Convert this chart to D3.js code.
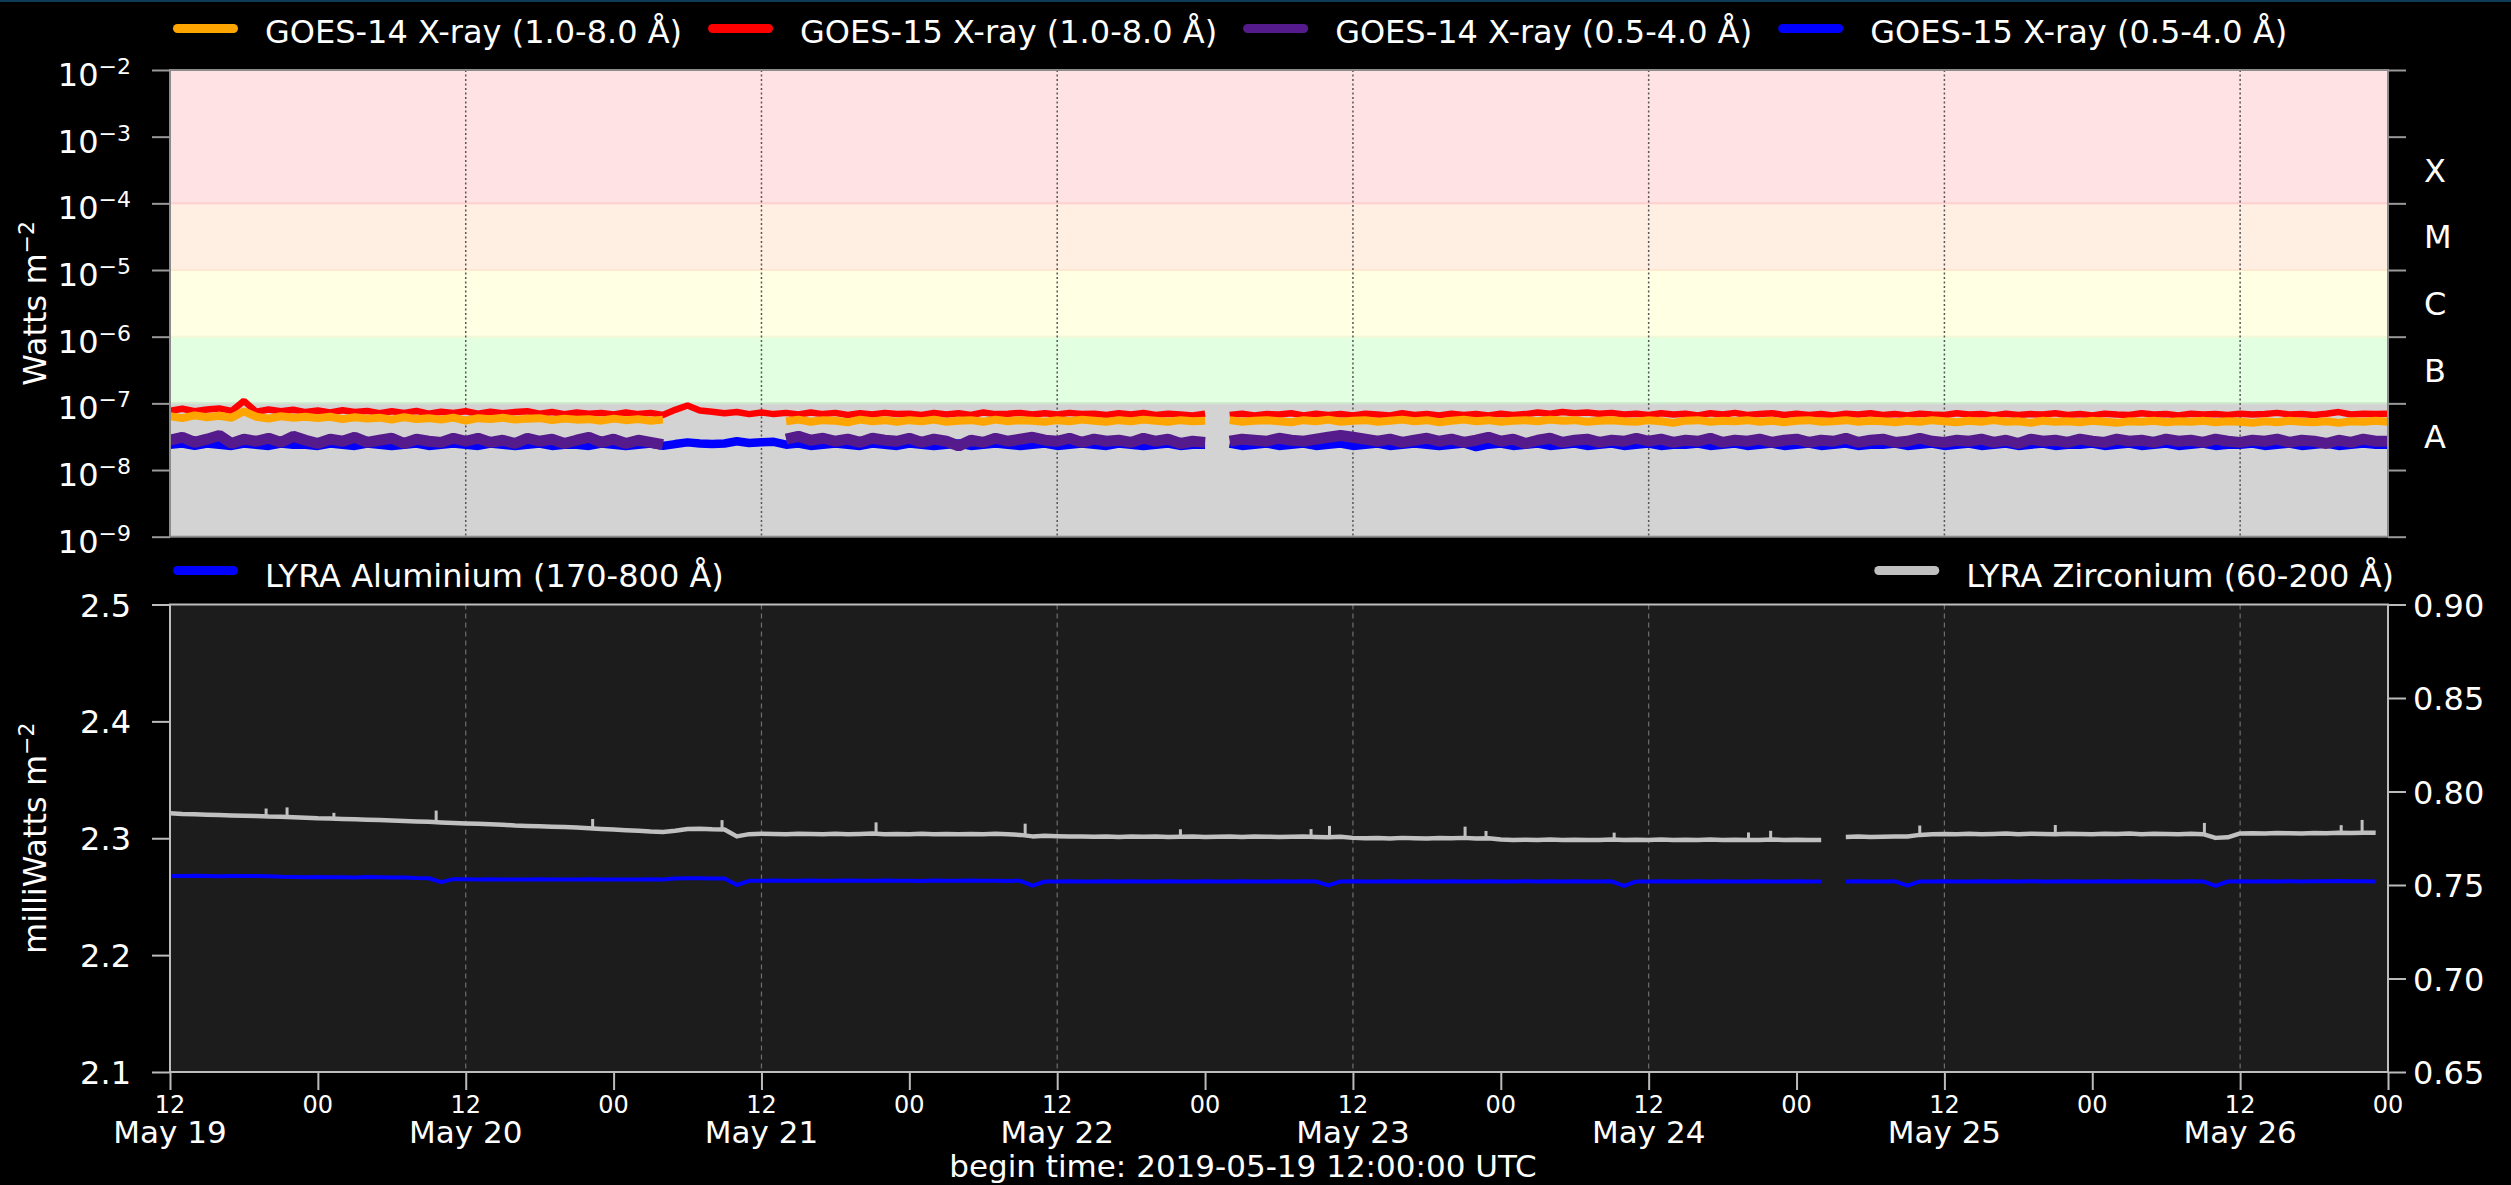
<!DOCTYPE html>
<html>
<head>
<meta charset="utf-8">
<script src="https://cdn.jsdelivr.net/npm/d3@7"></script>
<style>
  html, body { margin: 0; padding: 0; background: #000; }
  svg { display: block; font-family: "DejaVu Sans", sans-serif; }
</style>
</head>
<body>
<svg id="chart" width="2511" height="1185"></svg>
<script>
// ---------- data (hourly samples from 2019-05-19 12:00 UTC) ----------
const START = Date.UTC(2019, 4, 19, 12);
const HOUR = 3600e3;
const sampleHours = d3.range(181);

// GOES fluxes in units of 1e-8 W m^-2
const goes15Long = [
  7.7, 8.3, 7.6, 8.1, 8.4, 7.7, 10.9, 7.5, 8.1, 7.6, 8.0, 7.4,
  7.8, 7.3, 7.9, 7.4, 7.7, 7.1, 7.6, 7.2, 7.7, 7.0, 7.5, 7.2,
  7.6, 7.0, 7.5, 7.1, 7.4, 7.6, 7.0, 7.4, 6.9, 7.3, 7.0, 7.2,
  6.8, 7.3, 6.9, 7.2, 6.7, 8.0, 9.3, 7.8, 7.5, 7.1, 7.4, 6.9,
  7.3, 6.9, 7.2, 6.8, 7.3, 6.9, 7.2, 6.7, 7.1, 6.8, 7.2, 6.9,
  7.0, 6.7, 7.2, 6.8, 7.1, 6.7, 7.3, 6.9, 7.0, 7.2, 6.8, 7.1,
  6.8, 7.2, 6.9, 7.0, 6.7, 7.1, 6.8, 7.2, 6.7, 7.0, 6.8, 6.6,
  7.0, null, 6.7, 7.0, 6.6, 6.9, 6.8, 7.1, 6.6, 7.0, 6.7, 6.9,
  6.6, 7.0, 6.8, 6.6, 7.1, 6.7, 6.9, 6.6, 7.0, 6.7, 6.9, 6.6,
  7.0, 6.7, 6.9, 7.3, 7.0, 7.4, 7.1, 7.3, 7.0, 7.2, 6.8, 7.0,
  6.7, 7.1, 6.8, 7.0, 6.6, 7.1, 6.8, 7.2, 6.7, 6.9, 7.1, 6.7,
  7.0, 6.7, 6.9, 6.6, 7.0, 6.8, 7.1, 6.7, 6.9, 6.6, 7.0, 6.8,
  6.7, 7.1, 6.8, 6.9, 6.6, 7.0, 6.7, 6.9, 6.8, 7.1, 6.7, 6.9,
  6.6, 7.0, 6.8, 6.7, 7.1, 6.8, 6.9, 6.6, 7.0, 6.8, 6.9, 6.7,
  7.0, 6.8, 6.9, 7.2, 6.8, 6.9, 6.7, 7.0, 7.4, 6.8, 7.0, 6.9,
  7.0
];
const goes14Long = [
  6.4, 6.0, 6.6, 6.2, 6.5, 6.1, 7.6, 6.3, 5.9, 6.4, 6.1, 6.3,
  6.0, 6.3, 5.8, 6.2, 5.9, 6.1, 5.7, 6.2, 5.8, 6.0, 5.7, 6.1,
  5.5, 6.0, 5.8, 6.1, 5.7, 5.9, 6.0, 5.6, 5.9, 5.7, 5.8, 5.5,
  5.9, 5.6, 5.8, 5.5, 5.7, null, null, null, null, null, null, null,
  null, null, 5.4, 5.7, 5.3, 5.6, 5.5, 5.2, 5.7, 5.4, 5.6, 5.3,
  5.6, 5.4, 5.7, 5.3, 5.5, 5.6, 5.3, 5.7, 5.4, 5.6, 5.5, 5.3,
  5.6, 5.4, 5.7, 5.5, 5.3, 5.6, 5.4, 5.7, 5.5, 5.3, 5.6, 5.4,
  5.5, null, 5.6, 5.3, 5.5, 5.6, 5.4, 5.2, 5.6, 5.4, 5.7, 5.3,
  5.5, 5.6, 5.3, 5.5, 5.7, 5.4, 5.6, 5.2, 5.5, 5.7, 5.4, 5.6,
  5.3, 5.5, 5.6, 5.4, 5.7, 5.5, 5.6, 5.3, 5.5, 5.6, 5.4, 5.3,
  5.6, 5.4, 5.1, 5.5, 5.6, 5.3, 5.5, 5.4, 5.6, 5.3, 5.5, 5.2,
  5.5, 5.6, 5.3, 5.4, 5.6, 5.3, 5.5, 5.4, 5.2, 5.5, 5.3, 5.6,
  5.4, 5.2, 5.5, 5.3, 5.6, 5.3, 5.4, 5.1, 5.5, 5.3, 5.4, 5.2,
  5.5, 5.3, 5.1, 5.4, 5.3, 5.5, 5.2, 5.4, 5.3, 5.5, 5.2, 5.4,
  5.3, 5.1, 5.4, 5.2, 5.5, 5.3, 5.2, 5.4, 5.1, 5.4, 5.3, 5.5,
  5.3
];
const goes14Short = [
  2.8, 3.1, 2.6, 2.9, 3.3, 2.5, 2.9, 2.7, 3.0, 2.6, 3.2, 2.8,
  2.5, 2.9, 2.7, 3.1, 2.6, 2.8, 3.0, 2.5, 2.9, 2.7, 2.6, 3.0,
  2.7, 3.0, 2.6, 2.8, 2.5, 3.0, 2.7, 2.9, 2.5, 2.8, 3.1, 2.6,
  2.9, 2.5, 2.8, 2.6, 2.4, null, null, null, null, null, null, null,
  null, null, 2.9, 3.2, 2.8, 3.0, 2.7, 2.9, 2.6, 3.0, 2.8, 2.7,
  3.0, 2.6, 2.9, 2.7, 2.3, 2.8, 2.6, 3.0, 2.7, 2.9, 3.1, 2.8,
  2.7, 3.0, 2.6, 2.9, 2.7, 2.8, 2.6, 3.0, 2.7, 2.9, 2.5, 2.7,
  2.6, null, 2.7, 2.9, 2.8, 2.7, 3.0, 2.8, 2.7, 2.9, 3.1, 3.3,
  3.1, 2.9, 2.7, 2.9, 2.6, 2.8, 3.0, 2.7, 2.9, 2.6, 2.8, 3.1,
  2.7, 2.9, 2.5, 2.8, 3.0, 2.6, 2.8, 2.9, 2.6, 2.8, 2.7, 3.0,
  2.7, 2.9, 2.6, 2.8, 2.7, 3.0, 2.6, 2.8, 2.7, 2.9, 2.6, 2.8,
  2.9, 2.6, 2.8, 2.7, 3.0, 2.6, 2.8, 2.9, 2.6, 2.7, 3.0, 2.7,
  2.6, 2.8, 2.7, 2.9, 2.6, 2.8, 2.5, 2.9, 2.7, 2.8, 2.6, 2.9,
  2.7, 2.6, 2.9, 2.7, 2.8, 2.6, 2.9, 2.7, 2.8, 2.6, 2.9, 2.7,
  2.6, 2.8, 2.7, 2.9, 2.6, 2.8, 2.7, 2.5, 2.8, 2.6, 2.9, 2.7,
  2.7
];
const goes15Short = [
  2.4, 2.5, 2.3, 2.5, 2.4, 2.3, 2.5, 2.4, 2.3, 2.5, 2.4, 2.4,
  2.3, 2.5, 2.4, 2.3, 2.5, 2.4, 2.3, 2.4, 2.5, 2.3, 2.4, 2.5,
  2.4, 2.3, 2.5, 2.4, 2.3, 2.4, 2.5, 2.3, 2.4, 2.4, 2.3, 2.5,
  2.4, 2.3, 2.4, 2.5, 2.3, 2.45, 2.6, 2.5, 2.45, 2.5, 2.7, 2.55,
  2.6, 2.65, 2.4, 2.5, 2.3, 2.4, 2.5, 2.4, 2.3, 2.5, 2.4, 2.3,
  2.5, 2.4, 2.3, 2.4, 2.5, 2.3, 2.4, 2.5, 2.4, 2.3, 2.4, 2.5,
  2.3, 2.4, 2.5, 2.4, 2.3, 2.5, 2.4, 2.3, 2.4, 2.5, 2.3, 2.4,
  2.4, null, 2.5, 2.3, 2.4, 2.5, 2.3, 2.4, 2.5, 2.3, 2.4, 2.5,
  2.3, 2.4, 2.5, 2.3, 2.4, 2.5, 2.4, 2.3, 2.4, 2.5, 2.2, 2.4,
  2.5, 2.3, 2.4, 2.5, 2.3, 2.4, 2.5, 2.3, 2.4, 2.5, 2.3, 2.4,
  2.5, 2.3, 2.4, 2.4, 2.5, 2.3, 2.4, 2.5, 2.3, 2.4, 2.5, 2.3,
  2.4, 2.5, 2.3, 2.4, 2.5, 2.3, 2.4, 2.4, 2.5, 2.3, 2.4, 2.5,
  2.3, 2.4, 2.5, 2.3, 2.4, 2.5, 2.3, 2.4, 2.5, 2.3, 2.4, 2.4,
  2.5, 2.3, 2.4, 2.5, 2.3, 2.4, 2.5, 2.3, 2.4, 2.5, 2.3, 2.4,
  2.4, 2.5, 2.3, 2.4, 2.5, 2.3, 2.4, 2.5, 2.3, 2.4, 2.5, 2.4,
  2.4
];

// LYRA irradiances, mW m^-2
const lyraAl = [
  2.2678, 2.2676, 2.2679, 2.2677, 2.2675, 2.2678, 2.2676, 2.2677, 2.2675, 2.2670, 2.2668, 2.2667,
  2.2669, 2.2666, 2.2667, 2.2665, 2.2668, 2.2666, 2.2664, 2.2665, 2.2660, 2.2658, 2.2625, 2.2650,
  2.2649, 2.2648, 2.2650, 2.2647, 2.2648, 2.2646, 2.2649, 2.2647, 2.2648, 2.2646, 2.2649, 2.2647,
  2.2648, 2.2646, 2.2647, 2.2649, 2.2648, 2.2656, 2.2658, 2.2657, 2.2656, 2.2655, 2.2600, 2.2636,
  2.2637, 2.2638, 2.2636, 2.2637, 2.2639, 2.2636, 2.2637, 2.2638, 2.2636, 2.2637, 2.2639, 2.2636,
  2.2637, 2.2635, 2.2638, 2.2636, 2.2637, 2.2638, 2.2636, 2.2637, 2.2635, 2.2636, 2.2594, 2.2630,
  2.2631, 2.2632, 2.2630, 2.2631, 2.2633, 2.2630, 2.2632, 2.2631, 2.2630, 2.2632, 2.2631, 2.2630,
  2.2632, 2.2631, 2.2630, 2.2632, 2.2631, 2.2630, 2.2632, 2.2631, 2.2633, 2.2630, 2.2596, 2.2631,
  2.2632, 2.2630, 2.2631, 2.2633, 2.2630, 2.2632, 2.2631, 2.2630, 2.2632, 2.2631, 2.2630, 2.2632,
  2.2631, 2.2630, 2.2632, 2.2631, 2.2633, 2.2630, 2.2632, 2.2631, 2.2630, 2.2632, 2.2592, 2.2631,
  2.2630, 2.2632, 2.2631, 2.2630, 2.2632, 2.2631, 2.2633, 2.2630, 2.2631, 2.2632, 2.2630, 2.2631,
  2.2632, 2.2630, 2.2631, null, 2.2630, 2.2632, 2.2631, 2.2630, 2.2632, 2.2594, 2.2631, 2.2630,
  2.2632, 2.2631, 2.2630, 2.2632, 2.2631, 2.2633, 2.2630, 2.2632, 2.2631, 2.2630, 2.2632, 2.2631,
  2.2630, 2.2632, 2.2631, 2.2633, 2.2630, 2.2632, 2.2631, 2.2630, 2.2632, 2.2631, 2.2593, 2.2630,
  2.2632, 2.2631, 2.2633, 2.2630, 2.2632, 2.2631, 2.2633, 2.2632, 2.2634, 2.2633, 2.2632, 2.2631,
  null
];
const lyraZr = [
  0.7884, 0.7880, 0.7878, 0.7876, 0.7874, 0.7872, 0.7870, 0.7869, 0.7866, 0.7865, 0.7862, 0.7860,
  0.7857, 0.7856, 0.7853, 0.7851, 0.7849, 0.7847, 0.7845, 0.7842, 0.7840, 0.7838, 0.7834, 0.7831,
  0.7829, 0.7827, 0.7825, 0.7822, 0.7818, 0.7816, 0.7814, 0.7812, 0.7810, 0.7807, 0.7803, 0.7800,
  0.7797, 0.7793, 0.7790, 0.7786, 0.7784, 0.7790, 0.7799, 0.7801, 0.7798, 0.7797, 0.7760, 0.7772,
  0.7774, 0.7773, 0.7772, 0.7774, 0.7773, 0.7771, 0.7774, 0.7772, 0.7773, 0.7775, 0.7772, 0.7773,
  0.7771, 0.7774, 0.7772, 0.7773, 0.7771, 0.7773, 0.7772, 0.7774, 0.7771, 0.7768, 0.7760, 0.7763,
  0.7761, 0.7759, 0.7760, 0.7758, 0.7759, 0.7757, 0.7760, 0.7758, 0.7759, 0.7757, 0.7758, 0.7759,
  0.7757, 0.7758, 0.7760, 0.7757, 0.7759, 0.7758, 0.7757, 0.7758, 0.7759, 0.7757, 0.7756, 0.7758,
  0.7752, 0.7750, 0.7751, 0.7749, 0.7752, 0.7750, 0.7749, 0.7751, 0.7750, 0.7752, 0.7749, 0.7750,
  0.7743, 0.7741, 0.7742, 0.7740, 0.7743, 0.7741, 0.7742, 0.7740, 0.7741, 0.7743, 0.7740, 0.7742,
  0.7741, 0.7743, 0.7740, 0.7742, 0.7741, 0.7743, 0.7740, 0.7742, 0.7741, 0.7740, 0.7743, 0.7741,
  0.7742, 0.7740, 0.7741, null, 0.7757, 0.7759, 0.7757, 0.7758, 0.7760, 0.7759, 0.7768, 0.7772,
  0.7773, 0.7771, 0.7774, 0.7772, 0.7773, 0.7775, 0.7772, 0.7774, 0.7773, 0.7771, 0.7774, 0.7773,
  0.7772, 0.7774, 0.7773, 0.7775, 0.7772, 0.7774, 0.7773, 0.7771, 0.7774, 0.7772, 0.7752, 0.7755,
  0.7776, 0.7777, 0.7776, 0.7778, 0.7777, 0.7776, 0.7778, 0.7777, 0.7779, 0.7778, 0.7780, 0.7779,
  null
];
// short upward spikes on the zirconium channel
const zrSpikeHours = [7.8, 9.5, 13.3, 21.6, 34.3, 44.8, 57.3, 69.4, 82, 92.6, 94.1, 105.1, 106.8, 117.2, 128.1, 129.9, 142, 153, 165.1, 176.2, 177.9];
const zrSpikePeaks = [0.7909, 0.7915, 0.7886, 0.7898, 0.7853, 0.7847, 0.7835, 0.7828, 0.7798, 0.7799, 0.7816, 0.7812, 0.7789, 0.7780, 0.7781, 0.7790, 0.7818, 0.7821, 0.7832, 0.7820, 0.7848];

const flareClasses = ['A', 'B', 'C', 'M', 'X'];
const flareLower = [1e-8, 1e-7, 1e-6, 1e-5, 1e-4];
const goesDecades = [1e-9, 1e-8, 1e-7, 1e-6, 1e-5, 1e-4, 1e-3, 1e-2];
const alTicks = [2.1, 2.2, 2.3, 2.4, 2.5];
const zrTicks = [0.65, 0.70, 0.75, 0.80, 0.85, 0.90];

const goesLabels = ['GOES-14 X-ray (1.0-8.0 Å)', 'GOES-15 X-ray (1.0-8.0 Å)', 'GOES-14 X-ray (0.5-4.0 Å)', 'GOES-15 X-ray (0.5-4.0 Å)'];
const lyraLabels = ['LYRA Aluminium (170-800 Å)', 'LYRA Zirconium (60-200 Å)'];

// ---------- layout / style ----------
const W = 2511, H = 1185;
const L = 170, R = 2388;
const topT = 70, topB = 536.7, botT = 604.5, botB = 1072;
const FONT = '"DejaVu Sans", sans-serif';
const COL = { g14l: '#ffa500', g15l: '#ff0000', g14s: '#551a8b', g15s: '#0000ff', al: '#0000ff', zr: '#c0c0c0' };
const bandFill = { A: '#d3d3d3', B: '#e2ffe2', C: '#ffffe3', M: '#ffefe2', X: '#ffe2e4' };
const bandEdge = { B: '#cde8cd', C: '#f2f8d6', M: '#ffe8cf', X: '#ffcfcf' };

const svg = d3.select('#chart');
svg.append('rect').attr('width', W).attr('height', H).attr('fill', '#000');
svg.append('rect').attr('width', W).attr('height', 2).attr('fill', '#0e3b56');

const t0 = new Date(START), t1 = new Date(START + 180 * HOUR);
const timeOf = (h) => new Date(START + h * HOUR);
const x = d3.scaleUtc().domain([t0, t1]).range([L, R]);
const yG = d3.scaleLog().domain([1e-9, 1e-2]).range([topB, topT]);
const yAl = d3.scaleLinear().domain([2.1, 2.5]).range([botB, botT]);
const yZr = d3.scaleLinear().domain([0.65, 0.90]).range([botB, botT]);

const xTicks = d3.utcHours(t0, new Date(+t1 + 1), 12);
const noonTicks = xTicks.filter((d) => d.getUTCHours() === 12);

const defs = svg.append('defs');
defs.append('clipPath').attr('id', 'clipTop').append('rect')
  .attr('x', L).attr('y', topT).attr('width', R - L).attr('height', topB - topT);
defs.append('clipPath').attr('id', 'clipBot').append('rect')
  .attr('x', L).attr('y', botT).attr('width', R - L).attr('height', botB - botT);

// ---------- top panel (GOES) ----------
const gTop = svg.append('g');
flareClasses.forEach((c, i) => {
  const lo = i === 0 ? yG.domain()[0] : flareLower[i];
  const hi = i === flareClasses.length - 1 ? yG.domain()[1] : flareLower[i + 1];
  gTop.append('rect').attr('x', L).attr('width', R - L)
    .attr('y', yG(hi)).attr('height', yG(lo) - yG(hi)).attr('fill', bandFill[c]);
});
flareClasses.slice(1).forEach((c, i) => {
  gTop.append('line').attr('x1', L).attr('x2', R)
    .attr('y1', yG(flareLower[i + 1])).attr('y2', yG(flareLower[i + 1]))
    .attr('stroke', bandEdge[c]).attr('stroke-width', 2);
});
gTop.selectAll('line.grid').data(noonTicks.slice(1)).join('line')
  .attr('class', 'grid')
  .attr('x1', (d) => x(d)).attr('x2', (d) => x(d)).attr('y1', topT).attr('y2', topB)
  .attr('stroke', '#555').attr('stroke-width', 1.5).attr('stroke-dasharray', '2,2.5');

const goesLine = d3.line()
  .defined((d) => d[1] != null)
  .x((d) => x(timeOf(d[0])))
  .y((d) => yG(d[1] * 1e-8));
// drawing order: GOES-15 under GOES-14
const goesSeries = [
  { vals: goes15Long, color: COL.g15l, w: 6.5 },
  { vals: goes15Short, color: COL.g15s, w: 8.5 },
  { vals: goes14Long, color: COL.g14l, w: 8 },
  { vals: goes14Short, color: COL.g14s, w: 11 },
];
const gGoes = gTop.append('g').attr('clip-path', 'url(#clipTop)');
goesSeries.forEach((s) => {
  gGoes.append('path')
    .datum(sampleHours.map((h, i) => [h, s.vals[i]]))
    .attr('d', goesLine)
    .attr('fill', 'none').attr('stroke', s.color).attr('stroke-width', s.w)
    .attr('stroke-linejoin', 'bevel');
});

gTop.append('rect').attr('x', L).attr('y', topT).attr('width', R - L).attr('height', topB - topT)
  .attr('fill', 'none').attr('stroke', '#8c8c8c').attr('stroke-width', 2);

const axTopL = gTop.append('g').attr('transform', `translate(${L},0)`)
  .call(d3.axisLeft(yG).tickValues(goesDecades).tickSize(18).tickFormat(() => ''));
const axTopR = gTop.append('g').attr('transform', `translate(${R},0)`)
  .call(d3.axisRight(yG).tickValues(goesDecades).tickSize(18).tickFormat(() => ''));
[axTopL, axTopR].forEach((g) => {
  g.select('.domain').remove();
  g.selectAll('.tick line').attr('stroke', '#999').attr('stroke-width', 2);
});
goesDecades.forEach((d) => {
  const t = gTop.append('text').attr('x', L - 39).attr('y', yG(d) + 16)
    .attr('text-anchor', 'end').attr('fill', '#fff').attr('font-size', 32).attr('font-family', FONT);
  t.append('tspan').text('10');
  t.append('tspan').attr('dy', -12).attr('font-size', 22).text('\u2212' + Math.round(-Math.log10(d)));
});
flareClasses.forEach((c, i) => {
  gTop.append('text').attr('x', R + 36).attr('y', yG(flareLower[i] * Math.sqrt(10)))
    .attr('dy', '0.36em').attr('fill', '#fff').attr('font-size', 32).attr('font-family', FONT)
    .text(c);
});
const watts = svg.append('text')
  .attr('transform', `translate(46,${(topT + topB) / 2}) rotate(-90)`)
  .attr('text-anchor', 'middle').attr('fill', '#fff').attr('font-size', 32).attr('font-family', FONT);
watts.append('tspan').text('Watts m');
watts.append('tspan').attr('dy', -12).attr('font-size', 22).text('\u22122');

// ---------- bottom panel (LYRA) ----------
const gBot = svg.append('g');
gBot.append('rect').attr('x', L).attr('y', botT).attr('width', R - L).attr('height', botB - botT)
  .attr('fill', '#1c1c1c');
gBot.selectAll('line.grid').data(noonTicks.slice(1)).join('line')
  .attr('class', 'grid')
  .attr('x1', (d) => x(d)).attr('x2', (d) => x(d)).attr('y1', botT).attr('y2', botB)
  .attr('stroke', '#6e6e6e').attr('stroke-width', 1.2).attr('stroke-dasharray', '5,4');

const gLyra = gBot.append('g').attr('clip-path', 'url(#clipBot)');
const alLine = d3.line().defined((d) => d[1] != null)
  .x((d) => x(timeOf(d[0]))).y((d) => yAl(d[1]));
const zrLine = d3.line().defined((d) => d[1] != null)
  .x((d) => x(timeOf(d[0]))).y((d) => yZr(d[1]));
gLyra.append('path').datum(sampleHours.map((h, i) => [h, lyraAl[i]]))
  .attr('d', alLine).attr('fill', 'none').attr('stroke', COL.al).attr('stroke-width', 4)
  .attr('stroke-linejoin', 'round');
gLyra.append('path').datum(sampleHours.map((h, i) => [h, lyraZr[i]]))
  .attr('d', zrLine).attr('fill', 'none').attr('stroke', COL.zr).attr('stroke-width', 4.5)
  .attr('stroke-linejoin', 'round');
gLyra.selectAll('line.spike').data(zrSpikeHours).join('line')
  .attr('class', 'spike')
  .attr('x1', (h) => x(timeOf(h))).attr('x2', (h) => x(timeOf(h)))
  .attr('y1', (h) => yZr(lyraZr[Math.round(h)]))
  .attr('y2', (h, i) => yZr(zrSpikePeaks[i]))
  .attr('stroke', COL.zr).attr('stroke-width', 3);

gBot.append('rect').attr('x', L).attr('y', botT).attr('width', R - L).attr('height', botB - botT)
  .attr('fill', 'none').attr('stroke', '#bdbdbd').attr('stroke-width', 2);

const axBotL = gBot.append('g').attr('transform', `translate(${L},0)`)
  .call(d3.axisLeft(yAl).tickValues(alTicks).tickSize(18).tickPadding(21).tickFormat(d3.format('.1f')));
const axBotR = gBot.append('g').attr('transform', `translate(${R},0)`)
  .call(d3.axisRight(yZr).tickValues(zrTicks).tickSize(18).tickPadding(7).tickFormat(d3.format('.2f')));
const axBotX = gBot.append('g').attr('transform', `translate(0,${botB})`)
  .call(d3.axisBottom(x).tickValues(xTicks).tickSize(18).tickFormat(() => ''));
[axBotL, axBotR, axBotX].forEach((g) => {
  g.select('.domain').remove();
  g.attr('font-family', FONT).attr('font-size', 32);
  g.selectAll('.tick line').attr('stroke', '#bbb').attr('stroke-width', 2);
  g.selectAll('.tick text').attr('fill', '#fff').attr('dy', '0.36em');
});

const fmtHour = d3.utcFormat('%H');
const fmtDay = d3.utcFormat('%b %d');
xTicks.forEach((d) => {
  svg.append('text').attr('x', x(d)).attr('y', 1113).attr('text-anchor', 'middle')
    .attr('fill', '#fff').attr('font-size', 24).attr('font-family', FONT).text(fmtHour(d));
  if (d.getUTCHours() === 12) {
    svg.append('text').attr('x', x(d)).attr('y', 1143).attr('text-anchor', 'middle')
      .attr('fill', '#fff').attr('font-size', 31).attr('font-family', FONT).text(fmtDay(d));
  }
});
svg.append('text').attr('x', 1243).attr('y', 1177).attr('text-anchor', 'middle')
  .attr('fill', '#fff').attr('font-size', 31).attr('font-family', FONT)
  .text('begin time: ' + d3.utcFormat('%Y-%m-%d %H:%M:%S')(t0) + ' UTC');

const mw = svg.append('text')
  .attr('transform', `translate(46,${(botT + botB) / 2}) rotate(-90)`)
  .attr('text-anchor', 'middle').attr('fill', '#fff').attr('font-size', 32).attr('font-family', FONT);
mw.append('tspan').text('milliWatts m');
mw.append('tspan').attr('dy', -12).attr('font-size', 22).text('\u22122');

// ---------- legends ----------
function legendItem(x0, yLine, yText, color, label) {
  svg.append('line').attr('x1', x0 + 4.5).attr('x2', x0 + 60.5).attr('y1', yLine).attr('y2', yLine)
    .attr('stroke', color).attr('stroke-width', 9).attr('stroke-linecap', 'round');
  return svg.append('text').attr('x', x0 + 92).attr('y', yText).attr('fill', '#fff')
    .attr('font-size', 32).attr('font-family', FONT).text(label);
}
const goesColors = [COL.g14l, COL.g15l, COL.g14s, COL.g15s];
let lx = 173;
goesLabels.forEach((lab, i) => {
  const t = legendItem(lx, 28.5, 43, goesColors[i], lab);
  lx = lx + 92 + t.node().getComputedTextLength() + 26;
});
legendItem(173, 570.5, 587, COL.al, lyraLabels[0]);
const zrText = svg.append('text').attr('x', 2394).attr('y', 587).attr('text-anchor', 'end')
  .attr('fill', '#fff').attr('font-size', 32).attr('font-family', FONT).text(lyraLabels[1]);
const zrStart = 2394 - zrText.node().getComputedTextLength();
svg.append('line').attr('x1', zrStart - 92 + 4.5).attr('x2', zrStart - 92 + 60.5)
  .attr('y1', 570.5).attr('y2', 570.5)
  .attr('stroke', COL.zr).attr('stroke-width', 9).attr('stroke-linecap', 'round');
</script>
</body>
</html>
